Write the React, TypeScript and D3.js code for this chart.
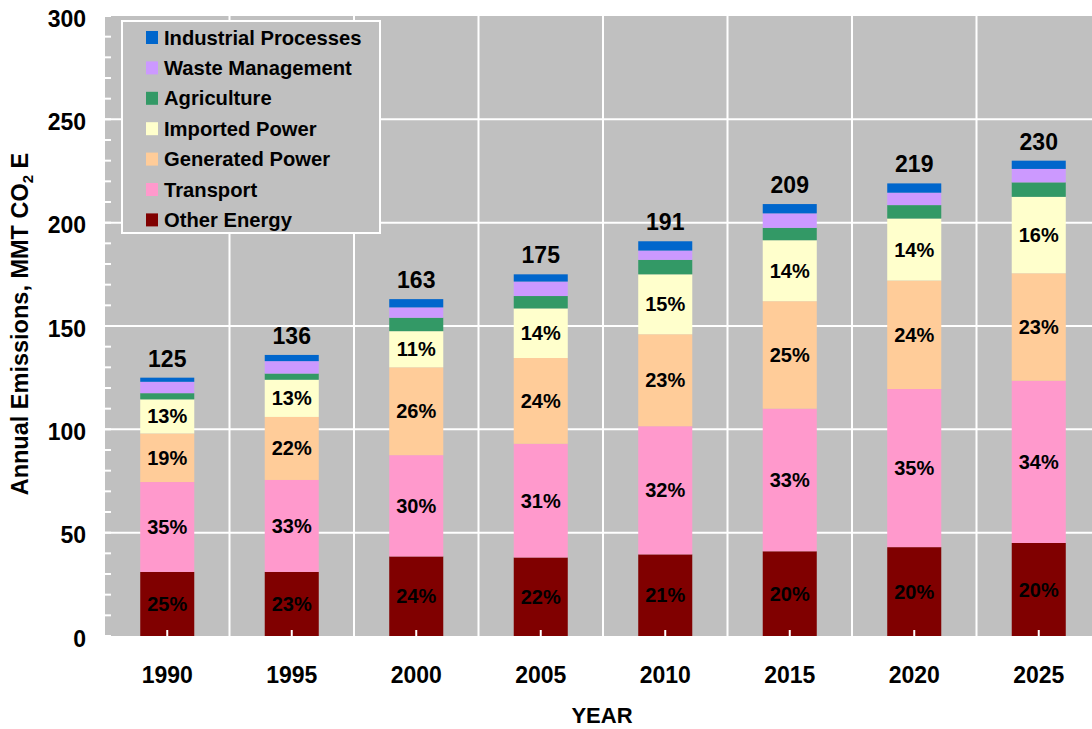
import React from "react";
import * as d3 from "d3";

const years = ["1990", "1995", "2000", "2005", "2010", "2015", "2020", "2025"];
const seriesNames = [
  "Other Energy",
  "Transport",
  "Generated Power",
  "Imported Power",
  "Agriculture",
  "Waste Management",
  "Industrial Processes",
];
const otherEnergy = [31, 31, 38.5, 38, 39.5, 41, 43, 45];
const transport = [43.5, 44.5, 49, 55, 62, 69, 76.5, 78.5];
const generatedPower = [23.5, 30.5, 42.5, 41.5, 44.5, 52, 52.5, 52];
const importedPower = [16.5, 18, 17.5, 24, 29, 29.5, 30, 37];
const agriculture = [3, 3, 6.5, 6, 7, 6, 6.5, 7];
const wasteManagement = [5.5, 6, 5, 7, 4.5, 7, 6, 6.5];
const industrialProcesses = [2, 3, 4, 3.5, 4.5, 4.5, 4.5, 4];
const yTicks = [0, 50, 100, 150, 200, 250, 300];
const colors = ["#800000", "#FF99CC", "#FFCC99", "#FFFFCC", "#339966", "#CC99FF", "#0066CC"];
const labeledSeries = [0, 1, 2, 3];

const W = 1092;
const H = 729;
const plotLeft = 105;
const plotRight = 1101;
const plotTop = 16;
const plotBottom = 636;
const FONT = "'Liberation Sans', Arial, Helvetica, sans-serif";

export default function App() {
  const seriesValues = [
    otherEnergy,
    transport,
    generatedPower,
    importedPower,
    agriculture,
    wasteManagement,
    industrialProcesses,
  ];
  const table = years.map((y, i) => {
    const row: Record<string, any> = { year: y };
    seriesNames.forEach((s, k) => (row[s] = seriesValues[k][i]));
    return row;
  });
  const stacked = d3.stack().keys(seriesNames)(table as any);
  const totals = years.map((_, i) => d3.sum(seriesValues, (s) => s[i]));

  const x = d3.scaleBand().domain(years).range([plotLeft, plotRight]).padding(0);
  const y = d3.scaleLinear().domain([0, 300]).range([plotBottom, plotTop]);
  const bw = x.bandwidth();
  const barW = bw * 0.434;
  const minorTicks = d3.range(0, 301, 10);

  return (
    <svg
      width={W}
      height={H}
      style={{ position: "absolute", left: 0, top: 0, display: "block" }}
      fontFamily={FONT}
      fontWeight="bold"
    >
      <rect x={0} y={0} width={W} height={H} fill="#ffffff" />
      <rect
        x={plotLeft}
        y={plotTop}
        width={plotRight - plotLeft}
        height={plotBottom - plotTop}
        fill="#C0C0C0"
      />
      {yTicks
        .filter((t) => t > 0 && t < 300)
        .map((t) => (
          <line
            key={"h" + t}
            x1={plotLeft}
            x2={plotRight}
            y1={y(t)}
            y2={y(t)}
            stroke="#ffffff"
            strokeWidth={2}
          />
        ))}
      {years.slice(1).map((yr) => (
        <line
          key={"v" + yr}
          x1={x(yr)!}
          x2={x(yr)!}
          y1={plotTop}
          y2={plotBottom}
          stroke="#ffffff"
          strokeWidth={2}
        />
      ))}
      {minorTicks.map((t) => (
        <line
          key={"m" + t}
          x1={plotLeft}
          x2={plotLeft + 6}
          y1={y(t)}
          y2={y(t)}
          stroke="#ffffff"
          strokeWidth={2}
        />
      ))}
      {stacked.map((layer, k) => (
        <g key={"s" + k} fill={colors[k]}>
          {layer.map((d, i) => (
            <rect
              key={i}
              x={x(years[i])! + bw / 2 - barW / 2}
              y={y(d[1])}
              width={barW}
              height={y(d[0]) - y(d[1])}
            />
          ))}
        </g>
      ))}
      {years.map((yr) => (
        <line
          key={"xt" + yr}
          x1={x(yr)! + bw / 2}
          x2={x(yr)! + bw / 2}
          y1={plotBottom}
          y2={plotBottom - 6}
          stroke="#ffffff"
          strokeWidth={2}
        />
      ))}
      {labeledSeries.map((k) =>
        stacked[k].map((d, i) => (
          <text
            key={"p" + k + "-" + i}
            x={x(years[i])! + bw / 2}
            y={(y(d[0]) + y(d[1])) / 2 + 7}
            textAnchor="middle"
            fontSize={20}
            fill="#000"
          >
            {Math.round((seriesValues[k][i] / totals[i]) * 100) + "%"}
          </text>
        ))
      )}
      {years.map((yr, i) => (
        <text
          key={"t" + yr}
          x={x(yr)! + bw / 2}
          y={y(totals[i]) - 11}
          textAnchor="middle"
          fontSize={23}
          fill="#000"
        >
          {Math.round(totals[i])}
        </text>
      ))}
      {yTicks.map((t) => (
        <text key={"yl" + t} x={86} y={y(t) + 10.5} textAnchor="end" fontSize={23} fill="#000">
          {t}
        </text>
      ))}
      {years.map((yr) => (
        <text key={"xl" + yr} x={x(yr)! + bw / 2} y={683} textAnchor="middle" fontSize={23} fill="#000">
          {yr}
        </text>
      ))}
      <text x={(plotLeft + plotRight) / 2 - 1} y={723} textAnchor="middle" fontSize={22} fill="#000">
        YEAR
      </text>
      <text
        transform={`translate(28,${(plotTop + plotBottom) / 2 - 2}) rotate(-90)`}
        textAnchor="middle"
        fontSize={23.5}
        fill="#000"
      >
        Annual Emissions, MMT CO
        <tspan fontSize={15} dy={5}>
          2
        </tspan>
        <tspan dy={-5}> E</tspan>
      </text>
      <rect x={122} y={21} width={258} height={212} fill="#C0C0C0" stroke="#ffffff" strokeWidth={2} />
      {seriesNames
        .map((s, k) => ({ s, k }))
        .reverse()
        .map(({ s, k }, j) => (
          <g key={"lg" + k} transform={`translate(0,${31 + j * 30.4})`}>
            <rect x={146} y={0} width={12} height={13} fill={colors[k]} />
            <text x={164} y={13.5} fontSize={20.2} fill="#000">
              {s}
            </text>
          </g>
        ))}
    </svg>
  );
}
